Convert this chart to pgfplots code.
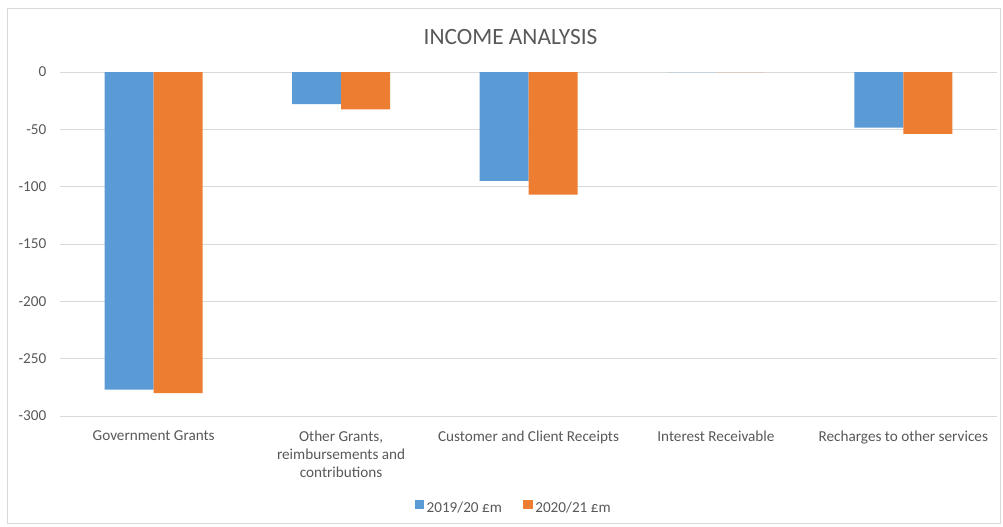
\documentclass[border=0pt]{standalone}
\usepackage{fontspec}
\setmainfont{Carlito}
\usepackage{pgfplots}
\pgfplotsset{compat=1.18}
\definecolor{sblue}{HTML}{5B9BD5}
\definecolor{sorange}{HTML}{ED7D31}
\definecolor{txt}{HTML}{595959}
\definecolor{gridc}{HTML}{D9D9D9}
\begin{document}
\begin{tikzpicture}
\path[fill=white] (0pt,0pt) rectangle (752.25pt,394.5pt);
\draw[gridc, line width=0.75pt] (5.25pt,2.25pt) rectangle (750pt,387.75pt);
\node[anchor=base, text=txt, font=\fontsize{17.5}{21}\selectfont] at (382.9pt,360.75pt) {INCOME ANALYSIS};
\begin{axis}[
  at={(45pt,82.5pt)}, anchor=south west,
  scale only axis, width=702.75pt, height=258pt,
  ybar=0pt, bar width=36.75pt,
  xmin=-0.5, xmax=4.5, ymin=-300, ymax=0,
  xtick={0,1,2,3,4},
  xticklabels={Government Grants,{Other Grants,\\reimbursements and\\contributions},Customer and Client Receipts,Interest Receivable,Recharges to other services},
  ytick={-300,-250,-200,-150,-100,-50,0},
  ymajorgrids, grid style={gridc, line width=0.75pt},
  axis line style={draw=none},
  major tick length=0pt,
  tick label style={font=\fontsize{11.4}{13.5}\selectfont, text=txt},
  /pgf/number format/assume math mode=true,
  xticklabel style={align=center, anchor=north, yshift=-7.5pt},
  yticklabel style={xshift=-6.7pt},
  legend style={at={(0.4845,-0.2674)}, anchor=center, draw=none, fill=none,
    legend columns=2, font=\fontsize{11.4}{13.5}\selectfont, text=txt,
    /tikz/every even column/.append style={column sep=14pt},
    legend cell align=left},
  legend image code/.code={\fill[#1] (0pt,-1pt) rectangle (7pt,6pt);},
]
\addplot[fill=sblue, draw=none] coordinates {(0,-277) (1,-28) (2,-95) (3,0) (4,-48.5)};
\addplot[fill=sorange, draw=none] coordinates {(0,-280) (1,-32.5) (2,-107) (3,0) (4,-54)};
\legend{2019/20 £m, 2020/21 £m}
\end{axis}
\end{tikzpicture}
\end{document}
